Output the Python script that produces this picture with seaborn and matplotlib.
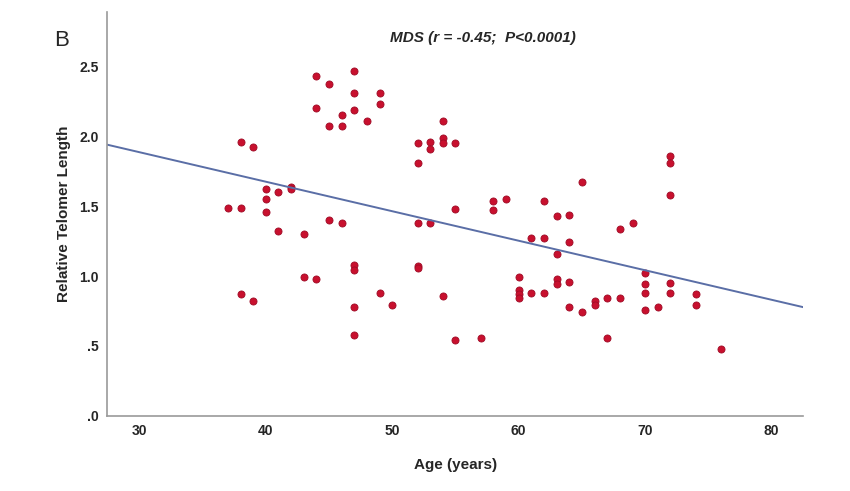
import numpy as np
import pandas as pd
import matplotlib
matplotlib.use("Agg")
import matplotlib.pyplot as plt
import seaborn as sns

# ages (years) and relative telomere length
age = [37,
       38, 38, 38,
       39, 39,
       40, 40, 40,
       41, 41,
       42, 42,
       43, 43,
       44, 44, 44,
       45, 45, 45,
       46, 46, 46,
       47, 47, 47, 47, 47, 47, 47,
       48,
       49, 49, 49,
       50,
       52, 52, 52, 52, 52,
       53, 53, 53,
       54, 54, 54, 54,
       55, 55, 55,
       57,
       58, 58,
       59,
       60, 60, 60, 60,
       61, 61,
       62, 62, 62,
       63, 63, 63, 63,
       64, 64, 64, 64,
       65, 65,
       66, 66,
       67, 67,
       68, 68,
       69,
       70, 70, 70, 70,
       71,
       72, 72, 72, 72, 72,
       74, 74,
       76]
rtl = [1.49,
       1.96, 1.49, 0.87,
       1.92, 0.82,
       1.62, 1.55, 1.46,
       1.60, 1.32,
       1.64, 1.62,
       1.30, 0.99,
       2.43, 2.20, 0.98,
       2.37, 2.07, 1.40,
       2.15, 2.07, 1.38,
       2.47, 2.31, 2.19, 1.08, 1.04, 0.78, 0.58,
       2.11,
       2.31, 2.23, 0.88,
       0.79,
       1.95, 1.81, 1.38, 1.07, 1.06,
       1.96, 1.91, 1.38,
       2.11, 1.99, 1.95, 0.86,
       1.95, 1.48, 0.54,
       0.56,
       1.54, 1.47,
       1.55,
       0.99, 0.90, 0.87, 0.84,
       1.27, 0.88,
       1.54, 1.27, 0.88,
       1.43, 1.16, 0.98, 0.94,
       1.44, 1.24, 0.96, 0.78,
       1.67, 0.74,
       0.82, 0.79,
       0.84, 0.56,
       1.34, 0.84,
       1.38,
       1.02, 0.94, 0.88, 0.76,
       0.78,
       1.86, 1.81, 1.58, 0.95, 0.88,
       0.87, 0.79,
       0.48]

x_ticks = [30, 40, 50, 60, 70, 80]
y_ticks = [0.0, 0.5, 1.0, 1.5, 2.0, 2.5]
y_tick_labels = [".0", ".5", "1.0", "1.5", "2.0", "2.5"]

df = pd.DataFrame({"Age": age, "RTL": rtl})

sns.set_theme(style="white")
plt.rcParams['font.family'] = ['Liberation Sans Narrow', 'Liberation Sans', 'DejaVu Sans']

fig = plt.figure(figsize=(8.5, 4.91), dpi=100)
ax = fig.add_axes([0.126, 0.153, 0.819, 0.823])

# limits first so the fitted line spans the whole x axis
x_range = (27.45, 82.5)
ax.set_xlim(*x_range)
ax.set_ylim(0, 2.89)

sns.regplot(data=df, x="Age", y="RTL", ax=ax, ci=None, truncate=False,
            scatter_kws=dict(s=26, color="#c8102e", edgecolor="#9e0b26", linewidths=0.6, alpha=1),
            line_kws=dict(color="#5a6ea6", lw=1.4))

ax.set_xlim(*x_range)
ax.set_ylim(0, 2.89)
ax.set_xticks(x_ticks)
ax.set_yticks(y_ticks)
ax.set_yticklabels(y_tick_labels)
ax.tick_params(length=0, labelsize=10, pad=6)
for lab in ax.get_xticklabels() + ax.get_yticklabels():
    lab.set_fontweight("bold")

sns.despine(ax=ax)
for s in ["left", "bottom"]:
    ax.spines[s].set_color("#9a9a9a")
    ax.spines[s].set_linewidth(1.2)

ax.set_xlabel("Age (years)", fontsize=11, fontweight="bold", labelpad=14)
ax.set_ylabel("Relative Telomer Length", fontsize=11, fontweight="bold", labelpad=6)

fig.text(0.568, 0.923, "MDS (r = -0.45;  P<0.0001)", fontsize=11, fontweight="bold",
         fontstyle="italic", ha="center", va="center")
fig.text(0.073, 0.918, "B", fontsize=16, ha="center", va="center")

fig.savefig("out.png", dpi=100, facecolor="white")
